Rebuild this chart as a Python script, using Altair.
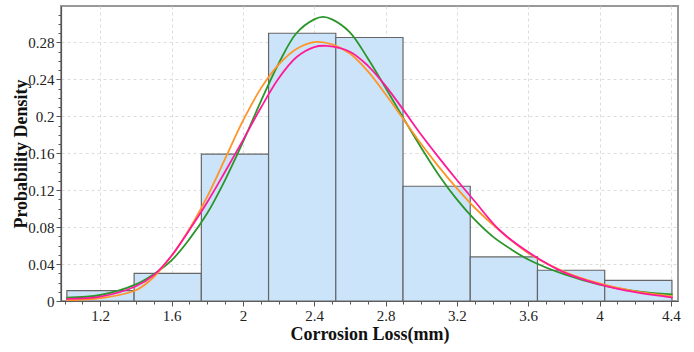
import altair as alt
import pandas as pd
import numpy as np

# Histogram bins (Corrosion Loss, mm) and heights (relative frequency)
bin_start = [1.013, 1.390, 1.767, 2.144, 2.521, 2.898, 3.275, 3.652, 4.029]
bin_end = [1.390, 1.767, 2.144, 2.521, 2.898, 3.275, 3.652, 4.029, 4.406]
bin_height = [0.0113, 0.0300, 0.1590, 0.2900, 0.2854, 0.1243, 0.0477, 0.0333, 0.0224]

# Fitted curves
green_x = [1.01, 1.2, 1.4, 1.5, 1.6, 1.7, 1.8, 1.9, 2.0, 2.1, 2.2, 2.3, 2.4, 2.45, 2.5,
           2.6, 2.7, 2.8, 2.9, 3.0, 3.1, 3.2, 3.3, 3.4, 3.5, 3.6, 3.8, 4.0, 4.2, 4.41]
green_y = [0.0036, 0.0065, 0.018, 0.029, 0.044, 0.067, 0.095, 0.131, 0.172, 0.216, 0.257,
           0.290, 0.305, 0.3077, 0.305, 0.291, 0.263, 0.231, 0.198, 0.166, 0.136, 0.110,
           0.088, 0.070, 0.0565, 0.045, 0.029, 0.0178, 0.0108, 0.0072]

orange_x = [1.01, 1.2, 1.4, 1.5, 1.6, 1.7, 1.8, 1.9, 2.0, 2.1, 2.2, 2.3, 2.41, 2.5, 2.6,
            2.7, 2.8, 2.9, 3.0, 3.1, 3.2, 3.3, 3.43, 3.6, 3.8, 4.0, 4.2, 4.41]
orange_y = [0.0008, 0.003, 0.0116, 0.026, 0.049, 0.078, 0.113, 0.154, 0.195, 0.230, 0.256,
            0.273, 0.2806, 0.278, 0.268, 0.249, 0.224, 0.197, 0.170, 0.145, 0.122, 0.101,
            0.078, 0.052, 0.032, 0.019, 0.0105, 0.0051]

pink_x = [1.01, 1.2, 1.4, 1.5, 1.6, 1.7, 1.8, 1.9, 2.0, 2.1, 2.2, 2.3, 2.4, 2.47, 2.6,
          2.7, 2.8, 2.9, 3.0, 3.1, 3.2, 3.3, 3.44, 3.6, 3.8, 4.0, 4.2, 4.41]
pink_y = [0.0022, 0.0047, 0.016, 0.028, 0.049, 0.077, 0.107, 0.140, 0.174, 0.209, 0.241,
          0.264, 0.275, 0.2763, 0.270, 0.255, 0.233, 0.207, 0.180, 0.155, 0.131, 0.108,
          0.0766, 0.053, 0.031, 0.018, 0.0095, 0.0037]

x_major = [1.2, 1.6, 2.0, 2.4, 2.8, 3.2, 3.6, 4.0, 4.4]
y_major = [0, 0.04, 0.08, 0.12, 0.16, 0.2, 0.24, 0.28]
x_ticks = [float(round(v, 2)) for v in np.arange(1.0, 4.41, 0.1)]
y_ticks = [float(round(v, 3)) for v in np.arange(0.0, 0.315, 0.01)]

bars = pd.DataFrame({"x0": bin_start, "x1": bin_end, "h": bin_height})
curves = pd.concat([
    pd.DataFrame({"x": green_x, "y": green_y, "s": "green"}),
    pd.DataFrame({"x": orange_x, "y": orange_y, "s": "orange"}),
    pd.DataFrame({"x": pink_x, "y": pink_y, "s": "pink"}),
])

FONT = "Liberation Serif"
# major ticks every 0.4 on x (values 1.2, 1.6, ...), every 0.04 on y
xmaj_test = "round(datum.value*10) % 4 == 0"
ymaj_test = "round(datum.value*100) % 4 == 0"

x_scale = alt.Scale(domain=[0.98, 4.44], nice=False, zero=False)
y_scale = alt.Scale(domain=[0, 0.3195], nice=False)

x_axis = alt.Axis(
    values=x_ticks, title="Corrosion Loss(mm)",
    labelExpr=f"({xmaj_test}) ? format(datum.value, '.1~f') : ''",
    labelOverlap=False, labelFlush=False,
    tickSize={"condition": {"test": xmaj_test, "value": 5}, "value": 3},
    gridOpacity={"condition": {"test": xmaj_test, "value": 1}, "value": 0},
    grid=True, gridDash=[3, 3], gridColor="#dcdcdc",
    labelFont=FONT, labelFontSize=15, labelColor="#222", labelPadding=2,
    titleFont=FONT, titleFontSize=18, titleFontWeight="bold", titleColor="#111",
    titleY=33, titleBaseline="middle",
    domainColor="#555", tickColor="#555", domainWidth=1.2,
)
y_axis = alt.Axis(
    values=y_ticks, title="Probability Density",
    labelExpr=f"({ymaj_test}) ? format(datum.value, '.2~f') : ''",
    labelOverlap=False, labelFlush=False,
    tickSize={"condition": {"test": ymaj_test, "value": 5}, "value": 3},
    gridOpacity={"condition": {"test": ymaj_test, "value": 1}, "value": 0},
    grid=True, gridDash=[3, 3], gridColor="#dcdcdc",
    labelFont=FONT, labelFontSize=15, labelColor="#222", labelPadding=2,
    titleFont=FONT, titleFontSize=18, titleFontWeight="bold", titleColor="#111",
    titleX=-40, titleBaseline="middle",
    domainColor="#555", tickColor="#555", domainWidth=1.2,
)

bar_layer = alt.Chart(bars).mark_rect(
    fill="#cce4fa", stroke="#666666", strokeWidth=1.2
).encode(
    x=alt.X("x0:Q", scale=x_scale, axis=x_axis),
    x2="x1:Q",
    y=alt.Y("h:Q", scale=y_scale, axis=y_axis),
    y2=alt.datum(0),
)

line_layer = alt.Chart(curves).mark_line(
    strokeWidth=1.8, interpolate="catmull-rom", clip=True
).encode(
    x=alt.X("x:Q", scale=x_scale, axis=x_axis),
    y=alt.Y("y:Q", scale=y_scale, axis=y_axis),
    color=alt.Color("s:N", scale=alt.Scale(domain=["green", "orange", "pink"],
                                           range=["#2a962a", "#ff9428", "#ff1a9a"]),
                    legend=None),
    detail="s:N",
)

chart = alt.layer(bar_layer, line_layer).properties(
    width=617, height=295,
    autosize=alt.AutoSizeParams(type="none"),
    padding={"left": 61, "top": 6, "right": 16, "bottom": 51},
    background="white",
).configure_view(
    stroke="#999999", strokeWidth=2
)

chart.save("out.html", embed_options={"renderer": "svg", "actions": False})
